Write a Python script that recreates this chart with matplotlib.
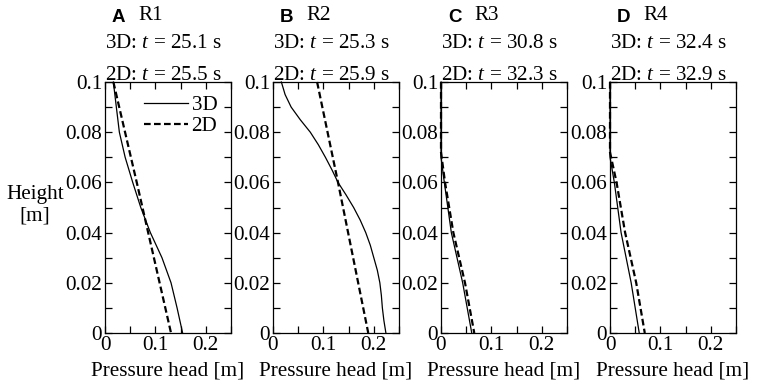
import matplotlib
matplotlib.use("Agg")
import matplotlib.pyplot as plt

plt.rcParams['font.family'] = 'Liberation Serif'
plt.rcParams['mathtext.fontset'] = 'custom'
plt.rcParams['mathtext.rm'] = 'Liberation Serif'
plt.rcParams['mathtext.it'] = 'Liberation Serif:italic'

panels = ["A", "B", "C", "D"]
runs = ["R1", "R2", "R3", "R4"]
t3d = ["25.1", "25.3", "30.8", "32.4"]
t2d = ["25.5", "25.9", "32.3", "32.9"]

# pressure head profiles (height [m] -> head [m])
h_a3d = [0.1, 0.09, 0.08, 0.07, 0.06, 0.05, 0.04, 0.03, 0.02, 0.01, 0.0]
p_a3d = [0.0166, 0.0225, 0.0285, 0.040, 0.055, 0.071, 0.090, 0.113, 0.131, 0.143, 0.154]
h_a2d = [0.1, 0.06, 0.0]
p_a2d = [0.0166, 0.063, 0.131]

h_b3d = [0.1, 0.095, 0.09, 0.085, 0.08, 0.075, 0.07, 0.065, 0.06, 0.055, 0.05,
         0.045, 0.04, 0.035, 0.03, 0.025, 0.02, 0.015, 0.01, 0.005, 0.0]
p_b3d = [0.0166, 0.024, 0.036, 0.054, 0.074, 0.090, 0.104, 0.117, 0.129, 0.145, 0.160,
         0.173, 0.184, 0.193, 0.200, 0.207, 0.212, 0.215, 0.217, 0.220, 0.224]
h_b2d = [0.1, 0.06, 0.0]
p_b2d = [0.0875, 0.129, 0.189]

h_c3d = [0.1, 0.07, 0.06, 0.04, 0.02, 0.0]
p_c3d = [0.0, 0.0, 0.0066, 0.0205, 0.043, 0.061]
h_c2d = [0.1, 0.072, 0.06, 0.04, 0.02, 0.0]
p_c2d = [0.0, 0.0, 0.008, 0.0245, 0.0476, 0.066]

h_d3d = [0.1, 0.07, 0.06, 0.04, 0.02, 0.0]
p_d3d = [0.0, 0.0, 0.0086, 0.022, 0.042, 0.058]
h_d2d = [0.1, 0.072, 0.06, 0.04, 0.02, 0.0]
p_d2d = [0.0, 0.0, 0.013, 0.030, 0.052, 0.069]

profiles = [
    (p_a3d, h_a3d, p_a2d, h_a2d),
    (p_b3d, h_b3d, p_b2d, h_b2d),
    (p_c3d, h_c3d, p_c2d, h_c2d),
    (p_d3d, h_d3d, p_d2d, h_d2d),
]

yticks = [0, 0.02, 0.04, 0.06, 0.08, 0.1]
ytick_labels = ["0", "0.02", "0.04", "0.06", "0.08", "0.1"]
xticks = [0, 0.1, 0.2]
xtick_labels = ["0", "0.1", "0.2"]

W, H = 765, 384
fig = plt.figure(figsize=(W / 100, H / 100), dpi=100)

lefts = [105, 273, 441, 610]
top, bottom, width = 82, 333, 126
fs = 15.2

for i in range(4):
    x0 = lefts[i]
    ax = fig.add_axes([x0 / W, (H - bottom) / H, width / W, (bottom - top) / H])
    p3, h3, p2, h2 = profiles[i]
    ax.plot(p3, h3, color='black', lw=0.9, label='3D', clip_on=False)
    ax.plot(p2, h2, color='black', lw=1.6, ls=(0, (3, 1.5)), label='2D', clip_on=False)
    ax.set_xlim(0, 0.25)
    ax.set_ylim(0, 0.1)
    ax.set_xticks(xticks)
    ax.set_xticklabels(xtick_labels)
    ax.set_xticks([0.05, 0.15, 0.25], minor=True)
    ax.set_yticks(yticks)
    ax.set_yticklabels(ytick_labels)
    ax.set_yticks([0.01, 0.03, 0.05, 0.07, 0.09], minor=True)
    ax.tick_params(which='both', direction='in', top=True, right=True,
                   length=5, width=0.9, labelsize=fs, pad=2)
    for s in ax.spines.values():
        s.set_linewidth(0.9)
    ax.set_xlabel("Pressure head [m]", fontsize=fs, labelpad=5)

    if i == 0:
        ax.legend(loc='upper right', frameon=False, fontsize=fs,
                  handlelength=2.1, handletextpad=0.15, borderpad=0.1,
                  borderaxespad=0.55, labelspacing=0.05)

    fig.text((x0 + 7) / W, 1 - 17 / H, panels[i], fontsize=13.5, fontweight='bold',
             family='Liberation Sans', va='center', ha='left')
    fig.text((x0 + 33) / W, 1 - 16 / H, runs[i], fontsize=fs, va='center', ha='left')
    fig.text(x0 / W, 1 - 44 / H, "3D: $t$ = " + t3d[i] + " s", fontsize=fs,
             va='center', ha='left')
    fig.text(x0 / W, 1 - 75 / H, "2D: $t$ = " + t2d[i] + " s", fontsize=fs,
             va='center', ha='left')

fig.text(35 / W, 1 - 205 / H, "Height\n[m]", fontsize=fs, ha='center', va='center',
         linespacing=1.2)

fig.savefig("out.png", dpi=100)
